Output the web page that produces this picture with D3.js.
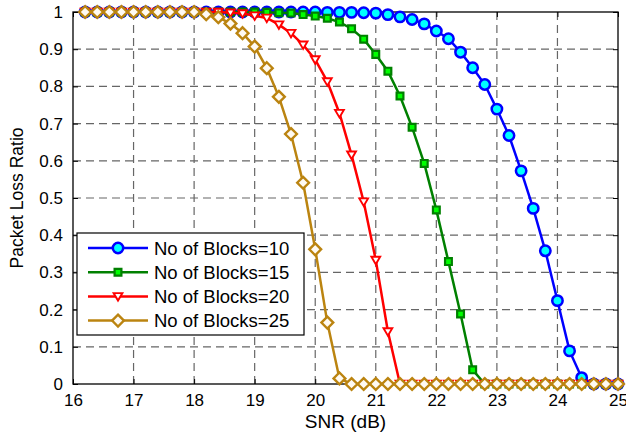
<!DOCTYPE html>
<html>
  <head>
    <meta charset="utf-8" />
    <script src="https://cdn.jsdelivr.net/npm/d3@7"></script>
    <style>
      body { margin: 0; background: #fff; }
      text { font-family: "Liberation Sans", Arial, sans-serif; fill: #000; }
    </style>
  </head>
  <body>
    <svg id="chart" width="626" height="435"></svg>
    <script>
      // SNR values (dB)
      const snr = [
        16.2, 16.4, 16.6, 16.8, 17.0, 17.2, 17.4, 17.6, 17.8, 18.0,
        18.2, 18.4, 18.6, 18.8, 19.0, 19.2, 19.4, 19.6, 19.8, 20.0,
        20.2, 20.4, 20.6, 20.8, 21.0, 21.2, 21.4, 21.6, 21.8, 22.0,
        22.2, 22.4, 22.6, 22.8, 23.0, 23.2, 23.4, 23.6, 23.8, 24.0,
        24.2, 24.4, 24.6, 24.8, 25.0,
      ];

      const blocks10 = [
        1, 1, 1, 1, 1, 1, 1, 1, 1, 1,
        1, 1, 1, 1, 1, 1, 1, 1, 1, 1,
        0.999, 0.999, 0.999, 0.998, 0.997, 0.993, 0.987, 0.98, 0.968, 0.949,
        0.928, 0.892, 0.85, 0.805, 0.739, 0.668, 0.573, 0.472, 0.358, 0.224,
        0.089, 0.017, 0, 0, 0,
      ];
      const blocks15 = [
        1, 1, 1, 1, 1, 1, 1, 1, 1, 1,
        1, 1, 1, 1, 1, 0.999, 0.998, 0.997, 0.993, 0.989,
        0.983, 0.973, 0.955, 0.927, 0.886, 0.841, 0.774, 0.69, 0.593, 0.468,
        0.329, 0.188, 0.038, 0, 0, 0, 0, 0, 0, 0,
        0, 0, 0, 0, 0,
      ];
      const blocks20 = [
        1, 1, 1, 1, 1, 1, 1, 1, 1, 1,
        1, 1, 0.998, 0.996, 0.99, 0.984, 0.966, 0.943, 0.912, 0.872,
        0.813, 0.728, 0.616, 0.49, 0.333, 0.141, 0, 0, 0, 0,
        0, 0, 0, 0, 0, 0, 0, 0, 0, 0,
        0, 0, 0, 0, 0,
      ];
      const blocks25 = [
        1, 1, 1, 1, 1, 1, 1, 1, 1, 1,
        0.994, 0.986, 0.969, 0.943, 0.907, 0.849, 0.772, 0.672, 0.541, 0.362,
        0.165, 0.015, 0, 0, 0, 0, 0, 0, 0, 0,
        0, 0, 0, 0, 0, 0, 0, 0, 0, 0,
        0, 0, 0, 0, 0,
      ];

      const xTicks = [16, 17, 18, 19, 20, 21, 22, 23, 24, 25];
      const yTicks = [0, 0.1, 0.2, 0.3, 0.4, 0.5, 0.6, 0.7, 0.8, 0.9, 1];
      const names = [
        "No of Blocks=10",
        "No of Blocks=15",
        "No of Blocks=20",
        "No of Blocks=25",
      ];

      // marker shapes
      const circle = (r) => `M${-r},0A${r},${r} 0 1,0 ${r},0A${r},${r} 0 1,0 ${-r},0Z`;
      const square = (s) => `M${-s},${-s}H${s}V${s}H${-s}Z`;
      const triDown = (s) => `M${-s},${-s * 0.75}H${s}L0,${s * 0.95}Z`;
      const diamond = (s) => `M0,${-s}L${s},0L0,${s}L${-s},0Z`;

      const series = [
        { name: names[0], values: blocks10, line: "#0000ff", fill: "#00ffff", marker: circle(5.2), sw: 2.5 },
        { name: names[1], values: blocks15, line: "#008000", fill: "#00ff00", marker: square(3.4), sw: 2.2 },
        { name: names[2], values: blocks20, line: "#ff0000", fill: "#ffffff", marker: triDown(4.4), sw: 1.9 },
        { name: names[3], values: blocks25, line: "#bb8410", fill: "#fffaf2", marker: diamond(5.9), sw: 2.4 },
      ];

      const svg = d3.select("#chart");
      const mLeft = 73, mRight = 618, mTop = 12, mBottom = 384;

      const x = d3.scaleLinear().domain([16, 25]).range([mLeft, mRight]);
      const y = d3.scaleLinear().domain([0, 1]).range([mBottom, mTop]);

      // grid
      const grid = svg.append("g").attr("stroke", "#666").attr("stroke-width", 1.2).attr("stroke-dasharray", "8,5");
      grid.selectAll("line.vx")
        .data(xTicks.slice(1, -1))
        .enter()
        .append("line")
        .attr("x1", (d) => x(d)).attr("x2", (d) => x(d))
        .attr("y1", mTop).attr("y2", mBottom);
      grid.selectAll("line.hy")
        .data(yTicks.slice(1, -1))
        .enter()
        .append("line")
        .attr("x1", mLeft).attr("x2", mRight)
        .attr("y1", (d) => y(d)).attr("y2", (d) => y(d));

      // axes (ticks inward, box)
      const tickFmt = (d) => d3.format("")(d);
      svg.append("g")
        .attr("transform", `translate(0,${mBottom})`)
        .call(d3.axisBottom(x).tickValues(xTicks).tickSizeInner(-5).tickSizeOuter(0).tickPadding(10).tickFormat(tickFmt))
        .call((g) => g.select(".domain").remove());
      svg.append("g")
        .attr("transform", `translate(0,${mTop})`)
        .call(d3.axisTop(x).tickValues(xTicks).tickSizeInner(-5).tickSizeOuter(0).tickFormat(""))
        .call((g) => g.select(".domain").remove());
      svg.append("g")
        .attr("transform", `translate(${mLeft},0)`)
        .call(d3.axisLeft(y).tickValues(yTicks).tickSizeInner(-5).tickSizeOuter(0).tickPadding(10).tickFormat(tickFmt))
        .call((g) => g.select(".domain").remove());
      svg.append("g")
        .attr("transform", `translate(${mRight},0)`)
        .call(d3.axisRight(y).tickValues(yTicks).tickSizeInner(-5).tickSizeOuter(0).tickFormat(""))
        .call((g) => g.select(".domain").remove());
      svg.selectAll(".tick line").attr("stroke", "#000");
      svg.selectAll(".tick text")
        .attr("font-size", 17)
        .attr("font-family", "'Liberation Sans', Arial, sans-serif")
        .attr("fill", "#000");

      svg.append("rect")
        .attr("x", mLeft).attr("y", mTop)
        .attr("width", mRight - mLeft).attr("height", mBottom - mTop)
        .attr("fill", "none").attr("stroke", "#000").attr("stroke-width", 1.3);

      // lines and markers
      const line = d3.line().x((d) => x(d[0])).y((d) => y(d[1]));
      series.forEach((s) => {
        const pts = snr.map((v, i) => [v, s.values[i]]);
        const g = svg.append("g");
        g.append("path")
          .attr("d", line(pts))
          .attr("fill", "none")
          .attr("stroke", s.line)
          .attr("stroke-width", 2.5);
        g.selectAll("path.m")
          .data(pts)
          .enter()
          .append("path")
          .attr("class", "m")
          .attr("d", s.marker)
          .attr("transform", (d) => `translate(${x(d[0])},${y(d[1])})`)
          .attr("fill", s.fill)
          .attr("stroke", s.line)
          .attr("stroke-width", s.sw);
      });

      // legend
      const legend = svg.append("g");
      legend.append("rect")
        .attr("x", 77).attr("y", 233)
        .attr("width", 227).attr("height", 102)
        .attr("fill", "#fff").attr("stroke", "#000").attr("stroke-width", 1.2);
      const rows = legend.selectAll("g.row")
        .data(series)
        .enter()
        .append("g")
        .attr("transform", (d, i) => `translate(0,${248 + i * 24.2})`);
      rows.append("line")
        .attr("x1", 88).attr("x2", 148)
        .attr("stroke", (d) => d.line).attr("stroke-width", 2.5);
      rows.append("path")
        .attr("d", (d) => d.marker)
        .attr("transform", "translate(118,0)")
        .attr("fill", (d) => d.fill)
        .attr("stroke", (d) => d.line)
        .attr("stroke-width", (d) => d.sw);
      rows.append("text")
        .attr("x", 154).attr("y", 0)
        .attr("dy", "0.36em")
        .attr("font-size", 18.5)
        .text((d) => d.name);

      // axis labels
      svg.append("text")
        .attr("x", (mLeft + mRight) / 2).attr("y", 428)
        .attr("text-anchor", "middle")
        .attr("font-size", 19)
        .text("SNR (dB)");
      svg.append("text")
        .attr("transform", `translate(22.5,${(mTop + mBottom) / 2}) rotate(-90)`)
        .attr("text-anchor", "middle")
        .attr("font-size", 17.5)
        .text("Packet Loss Ratio");
    </script>
  </body>
</html>
